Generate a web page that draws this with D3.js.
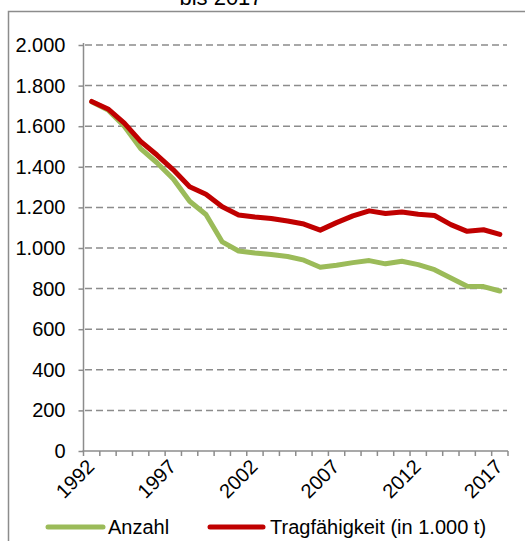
<!DOCTYPE html>
<html><head><meta charset="utf-8">
<script src="https://cdn.jsdelivr.net/npm/d3@7"></script>
<style>body{margin:0;background:#fff;}svg{display:block;font-family:"Liberation Sans",Arial,sans-serif;}</style>
</head><body>
<svg id="c" width="525" height="541"></svg>
<script>
const years = d3.range(1992, 2018).map(String);
const anzahl = [1720,1680,1600,1490,1420,1340,1230,1165,1030,985,975,968,958,940,905,915,928,938,922,935,918,893,852,812,810,788];
const tragfaehigkeit = [1722,1685,1615,1525,1458,1385,1302,1265,1203,1163,1153,1145,1133,1118,1088,1125,1158,1183,1170,1177,1166,1160,1115,1082,1090,1067];
const yTicks = [0,200,400,600,800,1000,1200,1400,1600,1800,2000];
const xLabels = ["1992","1997","2002","2007","2012","2017"];
const seriesNames = ["Anzahl","Tragfähigkeit (in 1.000 t)"];
const colors = ["#9BBB59","#C00000"];

const svg = d3.select("#c");
const fmt = v => d3.format(",")(v).replace(/,/g,".");

// frame
svg.append("rect").attr("x",8.5).attr("y",11.5).attr("width",530).attr("height",540)
  .attr("fill","none").attr("stroke","#8c8c8c").attr("stroke-width",1.5);
svg.append("text").attr("x",221).attr("y",5).attr("text-anchor","middle")
  .attr("font-size",22).attr("fill","#000").text("bis 2017");

const x = d3.scaleBand().domain(years).range([83.5,508]).padding(0);
const y = d3.scaleLinear().domain([0,2000]).range([451,45]);
const cx = d => x(d) + x.bandwidth()/2;

// grid
svg.append("g").selectAll("line").data(yTicks.filter(v=>v>0)).join("line")
  .attr("x1",85).attr("x2",507).attr("y1",d=>y(d)).attr("y2",d=>y(d))
  .attr("stroke","#8c8c8c").attr("stroke-width",1.5).attr("stroke-dasharray","7,4");

// y axis
const ya = svg.append("g").attr("transform","translate(83.5,0)")
  .call(d3.axisLeft(y).tickValues(yTicks).tickFormat(fmt).tickSize(5).tickPadding(13));
ya.select(".domain").attr("stroke","#8c8c8c").attr("stroke-width",1.5).attr("d","M0,"+y(0)+"V"+(y(2000)-2));
ya.selectAll(".tick line").attr("stroke","#8c8c8c").attr("stroke-width",1.5);
ya.selectAll("text").attr("font-size",20).attr("fill","#000").attr("font-family","Liberation Sans, Arial, sans-serif");

// x axis
const xg = svg.append("g");
xg.append("line").attr("x1",x.range()[0]-1).attr("x2",x.range()[1]).attr("y1",y(0)).attr("y2",y(0))
  .attr("stroke","#8c8c8c").attr("stroke-width",1.5);
const bounds = years.map(d=>x(d)).concat([x.range()[1]]);
xg.selectAll("line.t").data(bounds).join("line").attr("class","t")
  .attr("x1",d=>d).attr("x2",d=>d).attr("y1",y(0)).attr("y2",y(0)+5)
  .attr("stroke","#8c8c8c").attr("stroke-width",1.5);
xg.selectAll("text").data(xLabels).join("text")
  .attr("transform",d=>`translate(${cx(d)-1},${y(0)+12}) rotate(-45)`)
  .attr("text-anchor","end").attr("dy","0.35em").attr("font-size",20).attr("fill","#000").text(d=>d);

// lines
const line = d3.line().x((d,i)=>cx(years[i])).y(d=>y(d));
[anzahl,tragfaehigkeit].forEach((s,k)=>{
  svg.append("path").datum(s).attr("d",line).attr("fill","none")
    .attr("stroke",colors[k]).attr("stroke-width",5).attr("stroke-linejoin","round").attr("stroke-linecap","round");
});

// legend
const lg = [{x:48,w:55,tx:108},{x:210,w:53,tx:270}];
seriesNames.forEach((n,k)=>{
  svg.append("line").attr("x1",lg[k].x).attr("x2",lg[k].x+lg[k].w).attr("y1",527).attr("y2",527)
    .attr("stroke",colors[k]).attr("stroke-width",5).attr("stroke-linecap","round");
  svg.append("text").attr("x",lg[k].tx).attr("y",527).attr("dy","0.35em").attr("font-size",20).attr("fill","#000").text(n);
});
</script>
</body></html>
